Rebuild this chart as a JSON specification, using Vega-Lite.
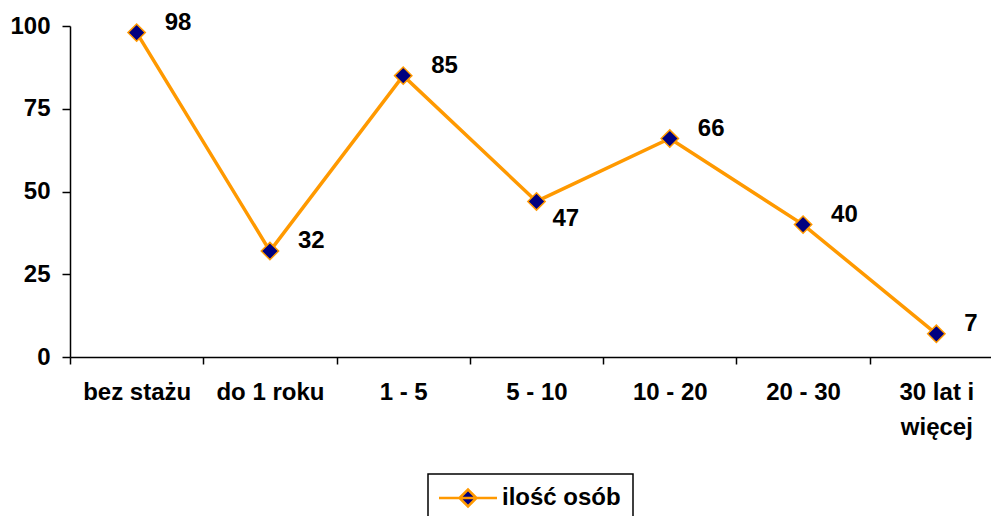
{
  "$schema": "https://vega.github.io/schema/vega-lite/v6.json",
  "width": 921,
  "height": 331,
  "autosize": {"type": "none"},
  "padding": {"left": 70, "top": 26, "right": 0, "bottom": 159},
  "background": "white",
  "config": {
    "view": {"stroke": null},
    "font": "Liberation Sans",
    "axis": {
      "grid": false,
      "domainColor": "black",
      "domainWidth": 1.5,
      "tickColor": "black",
      "tickWidth": 1.5,
      "labelFont": "Liberation Sans",
      "labelFontSize": 24,
      "labelFontWeight": "bold",
      "labelColor": "black",
      "title": null
    }
  },
  "data": {
    "values": [
      {"staz": "bez stażu", "count": 98},
      {"staz": "do 1 roku", "count": 32},
      {"staz": "1 - 5", "count": 85},
      {"staz": "5 - 10", "count": 47},
      {"staz": "10 - 20", "count": 66},
      {"staz": "20 - 30", "count": 40},
      {"staz": "30 lat i więcej", "count": 7}
    ]
  },
  "encoding": {
    "x": {
      "field": "staz",
      "type": "nominal",
      "sort": null,
      "scale": {"type": "band", "paddingInner": 0, "paddingOuter": 0, "range": [0, 933]},
      "axis": {
        "labelAngle": 0,
        "tickBand": "extent",
        "tickSize": 7,
        "labelPadding": 16,
        "labelLineHeight": 35,
        "labelLimit": 0,
        "labelExpr": "datum.label == '30 lat i więcej' ? ['30 lat i', 'więcej'] : datum.label"
      }
    },
    "y": {
      "field": "count",
      "type": "quantitative",
      "scale": {"domain": [0, 100]},
      "axis": {"values": [0, 25, 50, 75, 100], "tickSize": 8, "labelPadding": 12}
    }
  },
  "layer": [
    {
      "mark": {"type": "line", "strokeWidth": 3.5},
      "encoding": {
        "color": {
          "datum": "ilość osób",
          "type": "nominal",
          "scale": {"range": ["#FF9900"]},
          "legend": {
            "title": null,
            "orient": "none",
            "legendX": 358,
            "legendY": 448,
            "padding": 12,
            "fillColor": "white",
            "strokeColor": "black",
            "labelFont": "Liberation Sans",
            "labelFontSize": 24,
            "labelFontWeight": "bold",
            "labelColor": "black",
            "labelOffset": 22,
            "symbolType": "M-2.9,0L2.9,0M-0.85,0L0,-0.85L0.85,0L0,0.85Z",
            "symbolSize": 400,
            "symbolOffset": 16,
            "symbolStrokeWidth": 2.5,
            "encode": {
              "symbols": {"update": {"fill": {"value": "#000080"}, "stroke": {"value": "#FF9900"}, "strokeWidth": {"value": 2.5}}},
              "legend": {"update": {"strokeWidth": {"value": 1.5}}}
            }
          }
        }
      }
    },
    {
      "mark": {"type": "point", "shape": "diamond", "filled": true, "fill": "#000080", "stroke": "#FF9900", "strokeWidth": 1.5, "size": 300, "opacity": 1}
    },
    {
      "transform": [{"filter": "datum.staz != '5 - 10'"}],
      "mark": {"type": "text", "align": "left", "baseline": "middle", "dx": 28, "dy": -10, "fontSize": 24, "fontWeight": "bold", "font": "Liberation Sans", "color": "black"},
      "encoding": {"text": {"field": "count", "type": "quantitative"}}
    },
    {
      "transform": [{"filter": "datum.staz == '5 - 10'"}],
      "mark": {"type": "text", "align": "left", "baseline": "middle", "dx": 16, "dy": 18, "fontSize": 24, "fontWeight": "bold", "font": "Liberation Sans", "color": "black"},
      "encoding": {"text": {"field": "count", "type": "quantitative"}}
    }
  ]
}
